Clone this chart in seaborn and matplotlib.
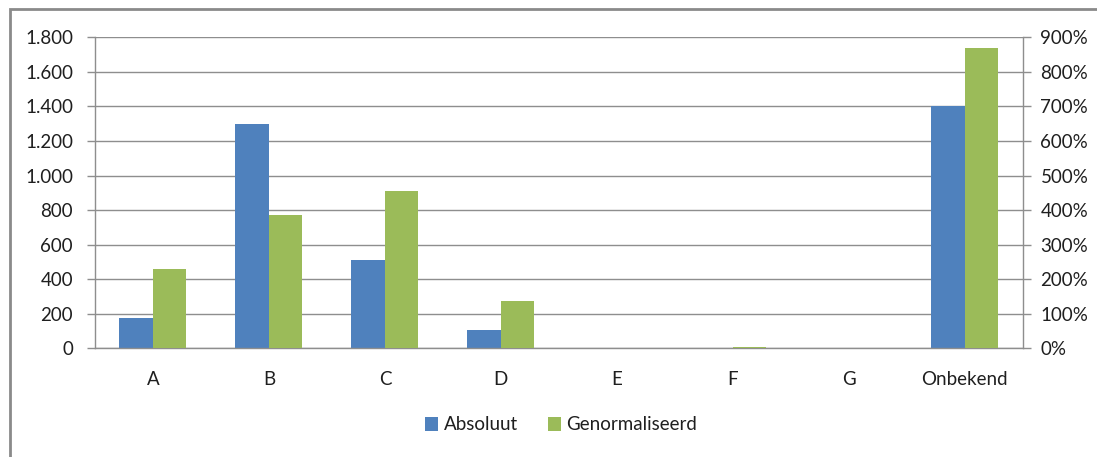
import matplotlib
matplotlib.use("Agg")
import matplotlib.pyplot as plt
from matplotlib.patches import Patch, Rectangle
from matplotlib.ticker import FuncFormatter, FixedLocator
import numpy as np
import pandas as pd
import seaborn as sns

# Chart data
categories = ["A", "B", "C", "D", "E", "F", "G", "Onbekend"]
absoluut = [175, 1300, 510, 105, 0, 0, 0, 1400]          # counts, left axis
genormaliseerd = [230, 385, 455, 136, 0, 4, 0, 870]     # percent, right axis
series_names = ["Absoluut", "Genormaliseerd"]
left_ticks = [0, 200, 400, 600, 800, 1000, 1200, 1400, 1600, 1800]
right_ticks = [0, 100, 200, 300, 400, 500, 600, 700, 800, 900]

BLUE = "#4F81BD"
GREEN = "#9BBB59"
GRID = "#8e8e8e"
TEXT = "#1f1f1f"
FS = 13.5

sns.set_theme(style="white")
plt.rcParams["font.family"] = ["Lato", "DejaVu Sans"]
plt.rcParams["font.size"] = FS

# Long-form tables: each axis gets its own series, the other left empty so
# the dodge positions stay side by side.
df_abs = pd.DataFrame({
    "categorie": categories * 2,
    "reeks": [series_names[0]] * len(categories) + [series_names[1]] * len(categories),
    "waarde": absoluut + [np.nan] * len(categories),
})
df_norm = pd.DataFrame({
    "categorie": categories * 2,
    "reeks": [series_names[0]] * len(categories) + [series_names[1]] * len(categories),
    "waarde": [np.nan] * len(categories) + genormaliseerd,
})
palette = {series_names[0]: BLUE, series_names[1]: GREEN}

fig = plt.figure(figsize=(10.97, 4.57), dpi=100)
ax = fig.add_axes([95 / 1097, 1 - 348.3 / 457, (1022.7 - 95) / 1097, (348.3 - 37.3) / 457])
ax2 = ax.twinx()

sns.barplot(data=df_abs, x="categorie", y="waarde", hue="reeks", hue_order=series_names,
            order=categories, palette=palette, dodge=True, width=0.578,
            errorbar=None, legend=False, ax=ax, linewidth=0, saturation=1)
sns.barplot(data=df_norm, x="categorie", y="waarde", hue="reeks", hue_order=series_names,
            order=categories, palette=palette, dodge=True, width=0.578,
            errorbar=None, legend=False, ax=ax2, linewidth=0, saturation=1)

ax.set_xlim(-0.5, len(categories) - 0.5)
ax.set_ylim(0, 1800)
ax2.set_ylim(0, 900)

ax.yaxis.set_major_locator(FixedLocator(left_ticks))
ax2.yaxis.set_major_locator(FixedLocator(right_ticks))
ax.yaxis.set_major_formatter(FuncFormatter(lambda v, p: f"{v:,.0f}".replace(",", ".")))
ax2.yaxis.set_major_formatter(FuncFormatter(lambda v, p: f"{v:.0f}%"))

# Horizontal gridlines on the primary axis
ax.set_axisbelow(True)
ax.grid(axis="y", color=GRID, linewidth=1.0)
ax.grid(axis="x", visible=False)
ax2.grid(False)

# Category labels centred, tick marks at the category boundaries
ax.set_xticks(range(len(categories)))
ax.set_xticklabels(categories)
ax.set_xticks(np.arange(-0.5, len(categories) + 0.5, 1.0), minor=True)
ax.tick_params(axis="x", which="major", length=0, pad=16, colors=TEXT, labelsize=FS)
ax.tick_params(axis="x", which="minor", length=5.5, width=1.0, color=GRID, direction="out")
ax.tick_params(axis="y", which="major", length=5.8, width=1.0, color=GRID, pad=10,
               labelcolor=TEXT, labelsize=FS, direction="out", left=True)
ax2.tick_params(axis="y", which="major", length=5.8, width=1.0, color=GRID, pad=7,
                labelcolor=TEXT, labelsize=FS, direction="out", right=True)

ax.set_xlabel("")
ax.set_ylabel("")
ax2.set_xlabel("")
ax2.set_ylabel("")

for a in (ax, ax2):
    a.spines["top"].set_visible(False)
    for side in ("left", "right", "bottom"):
        a.spines[side].set_color(GRID)
        a.spines[side].set_linewidth(1.0)
ax.spines["right"].set_visible(False)
ax2.spines["left"].set_visible(False)
ax2.spines["bottom"].set_visible(False)

# Legend below the plot
handles = [Patch(facecolor=BLUE, edgecolor="none"), Patch(facecolor=GREEN, edgecolor="none")]
fig.legend(handles, series_names, loc="center", bbox_to_anchor=(561 / 1097, 1 - 425 / 457),
           ncol=2, frameon=False, fontsize=FS, handlelength=0.7, handleheight=0.7,
           handletextpad=0.3, columnspacing=1.6, labelcolor=TEXT)

# Chart area border
fig.add_artist(Rectangle((9.5 / 1097, -0.5), 2.0, 0.5 + (1 - 9.0 / 457),
                         transform=fig.transFigure, fill=False,
                         edgecolor="#8a8a8a", linewidth=2.0))

fig.savefig("out.png", dpi=100, facecolor="white")
